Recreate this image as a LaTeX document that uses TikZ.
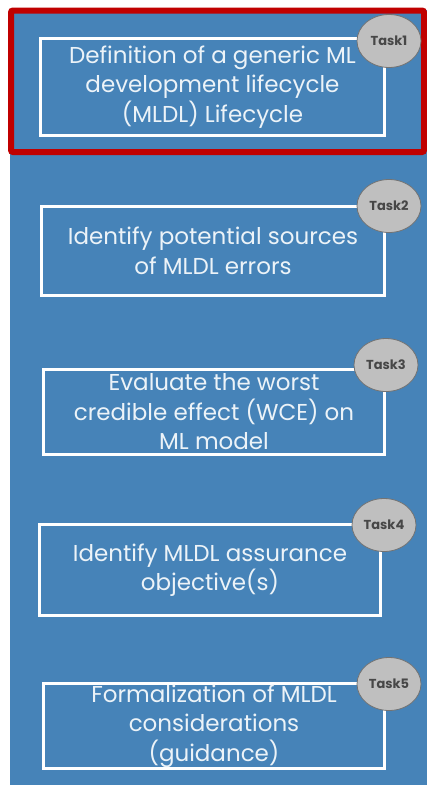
\documentclass[tikz,border=0pt]{standalone}
\usepackage{fontspec}
\setmainfont{Poppins}
\usepackage{tikz}
\usetikzlibrary{shapes.geometric}
\definecolor{mldl-blue}{RGB}{70,131,184}
\definecolor{mldl-red}{RGB}{192,0,0}
\definecolor{mldl-badgefill}{RGB}{191,191,191}
\tikzset{
  mldl-task/.style={draw=white, line width=2.5pt, inner sep=0pt, align=center,
    text=white!90!mldl-blue, font=\fontsize{23}{29.5}\selectfont},
  mldl-badge/.style={ellipse, draw=black!55, fill=mldl-badgefill, line width=0.8pt,
    minimum width=64pt, minimum height=53pt, inner sep=0pt,
    font=\bfseries\fontsize{13}{15}\selectfont, text=black!72}
}

\begin{document}
\begin{tikzpicture}[x=1pt, y=-1pt]
  \useasboundingbox (0,0) rectangle (427,785);
  \fill[white] (0,0) rectangle (427,785);

  % Panel and highlighted first step
  \fill[mldl-blue] (10,10) rectangle (427,785);
  \draw[mldl-red, line width=6pt, rounded corners=2pt] (11,10.5) rectangle (424,152);

  % Task boxes (top to bottom)
  \node[mldl-task, minimum width=344pt, minimum height=97pt] (lifecycle) at (212.5,87)
    {Definition of a generic ML\\development lifecycle\\(MLDL) Lifecycle};
  \node[mldl-task, minimum width=343pt, minimum height=89pt] (sources) at (213,251)
    {Identify potential sources\\of MLDL errors};
  \node[mldl-task, minimum width=341pt, minimum height=85pt] (wce) at (214,412)
    {Evaluate the worst\\credible effect (WCE) on\\ML model};
  \node[mldl-task, minimum width=341pt, minimum height=91pt] (objectives) at (210,570)
    {Identify MLDL assurance\\objective(s)};
  \node[mldl-task, minimum width=341pt, minimum height=85pt] (guidance) at (214,726)
    {Formalization of MLDL\\considerations\\(guidance)};

  % Task badges on the top right corners
  \node[mldl-badge] (task1) at (389,41) {Task1};
  \node[mldl-badge] (task2) at (389,206) {Task2};
  \node[mldl-badge] (task3) at (386,365) {Task3};
  \node[mldl-badge] (task4) at (384,525) {Task4};
  \node[mldl-badge] (task5) at (389,684) {Task5};
\end{tikzpicture}
\end{document}
